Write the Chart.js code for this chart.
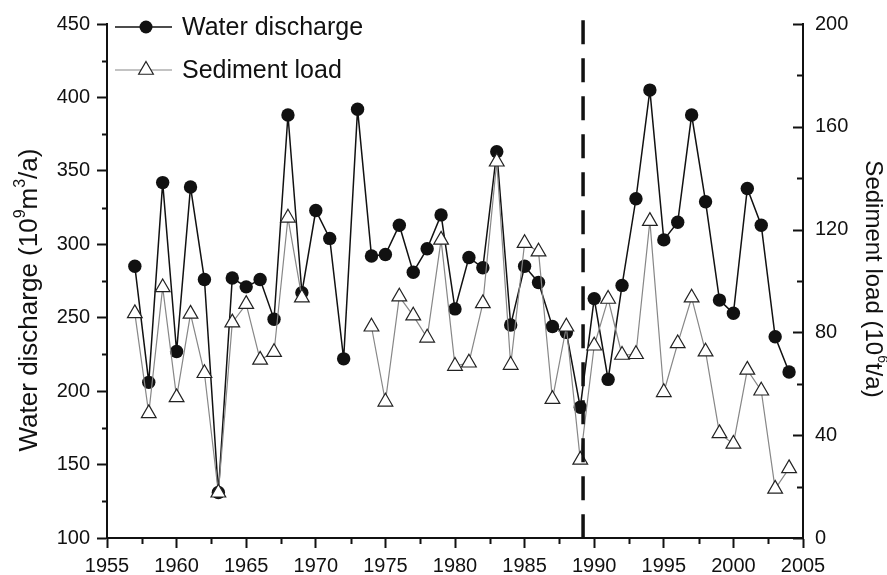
<!DOCTYPE html>
<html>
<head>
<meta charset="utf-8">
<script src="https://cdn.jsdelivr.net/npm/chart.js@4/dist/chart.umd.min.js"></script>
<style>
html,body{margin:0;padding:0;background:#fff;}
#wrap{width:887px;height:575px;position:relative;}
</style>
</head>
<body>
<div id="wrap"><canvas id="c"></canvas></div>
<script>
// ---- data ----
const years = [1957,1958,1959,1960,1961,1962,1963,1964,1965,1966,1967,1968,1969,1970,1971,1972,1973,1974,1975,1976,1977,1978,1979,1980,1981,1982,1983,1984,1985,1986,1987,1988,1989,1990,1991,1992,1993,1994,1995,1996,1997,1998,1999,2000,2001,2002,2003,2004];
const waterDischarge = [285,206,342,227,339,276,131,277,271,276,249,388,267,323,304,222,392,292,293,313,281,297,320,256,291,284,363,245,285,274,244,240,189,263,208,272,331,405,303,315,388,329,262,253,338,313,237,213];
const sedimentLoad = [87.4,48.5,97.5,54.7,87.2,64.1,17.6,83.8,91,69.3,72.3,124.6,93.5,null,null,null,null,82.2,53,93.9,86.5,77.9,116,66.9,68.2,91.3,146.4,67.3,114.7,111.4,54,82.2,30.4,74.8,93,71.2,71.5,123.3,56.7,75.7,93.5,72.5,40.7,36.6,65.4,57.3,19.1,27.1];
const breakYear = 1989.2;
const seriesNames = ['Water discharge', 'Sediment load'];
const leftTitle = [['Water discharge (10',false],['9',true],['m',false],['3',true],['/a)',false]];
const rightTitle = [['Sediment load (10',false],['6',true],['t/a)',false]];
const xTicks = {min:1955, max:2005, step:5, minor:2.5};
const yTicks = {min:100, max:450, step:50, minor:25};
const y1Ticks = {min:0, max:200, step:40, minor:20};

const FONT = "'Liberation Sans', Arial, Helvetica, sans-serif";
const INK = '#111';
const GRAYLINE = '#878787';

function drawRich(ctx, parts, cx, cy, rot, size){
  ctx.save();
  ctx.translate(cx, cy);
  ctx.rotate(rot);
  const sub = Math.round(size*0.6);
  let w = 0;
  const widths = parts.map(p => {
    ctx.font = (p[1]?sub:size) + 'px ' + FONT;
    const m = ctx.measureText(p[0]).width;
    w += m; return m;
  });
  let x = -w/2;
  ctx.fillStyle = INK;
  ctx.textBaseline = 'middle';
  ctx.textAlign = 'left';
  parts.forEach((p,i) => {
    ctx.font = (p[1]?sub:size) + 'px ' + FONT;
    ctx.fillText(p[0], x, p[1] ? -size*0.38 : 0);
    x += widths[i];
  });
  ctx.restore();
}

const extras = {
  id:'extras',
  afterDraw(chart){
    const ctx = chart.ctx;
    const {x, y, y1} = chart.scales;
    const a = chart.chartArea;
    ctx.save();
    ctx.strokeStyle = INK;
    ctx.lineWidth = 2;
    ctx.beginPath();
    // left minor ticks
    for (let v = yTicks.min + yTicks.minor; v < yTicks.max; v += yTicks.step){
      const py = Math.round(y.getPixelForValue(v)) + 0.5;
      ctx.moveTo(a.left - 5, py); ctx.lineTo(a.left, py);
    }
    // bottom minor ticks
    for (let v = xTicks.min + xTicks.minor; v < xTicks.max; v += xTicks.step){
      const px = Math.round(x.getPixelForValue(v)) + 0.5;
      ctx.moveTo(px, a.bottom); ctx.lineTo(px, a.bottom + 6);
    }
    // right axis ticks (inward)
    for (let v = y1Ticks.min; v <= y1Ticks.max; v += y1Ticks.step){
      const py = Math.round(y1.getPixelForValue(v)) + 0.5;
      ctx.moveTo(a.right - 10, py); ctx.lineTo(a.right, py);
    }
    for (let v = y1Ticks.min + y1Ticks.minor; v < y1Ticks.max; v += y1Ticks.step){
      const py = Math.round(y1.getPixelForValue(v)) + 0.5;
      ctx.moveTo(a.right - 6, py); ctx.lineTo(a.right, py);
    }
    ctx.stroke();

    // axis titles
    drawRich(ctx, leftTitle, 30, 300, -Math.PI/2, 26);
    drawRich(ctx, rightTitle, 873, 279, Math.PI/2, 24);

    // legend
    const lx0 = 115, lx1 = 172, mx = 146, tx = 182;
    const ly = [27, 70];
    ctx.lineWidth = 1.5; ctx.strokeStyle = INK;
    ctx.beginPath(); ctx.moveTo(lx0, ly[0]); ctx.lineTo(lx1, ly[0]); ctx.stroke();
    ctx.fillStyle = INK;
    ctx.beginPath(); ctx.arc(mx, ly[0], 6.5, 0, Math.PI*2); ctx.fill();
    ctx.lineWidth = 1.2; ctx.strokeStyle = GRAYLINE;
    ctx.beginPath(); ctx.moveTo(lx0, ly[1]); ctx.lineTo(lx1, ly[1]); ctx.stroke();
    const r = 8.5;
    ctx.beginPath();
    ctx.moveTo(mx, ly[1] - r);
    ctx.lineTo(mx + r*Math.sqrt(3)/2, ly[1] + r/2);
    ctx.lineTo(mx - r*Math.sqrt(3)/2, ly[1] + r/2);
    ctx.closePath();
    ctx.fillStyle = '#fff'; ctx.fill();
    ctx.strokeStyle = '#222'; ctx.lineWidth = 1.2; ctx.stroke();
    ctx.fillStyle = INK;
    ctx.font = '25px ' + FONT;
    ctx.textBaseline = 'middle'; ctx.textAlign = 'left';
    ctx.fillText(seriesNames[0], tx, ly[0] + 1);
    ctx.fillText(seriesNames[1], tx, ly[1] + 1);
    ctx.restore();
  }
};

const tickFont = {family: FONT, size: 20};

new Chart(document.getElementById('c'), {
  type: 'line',
  data: {
    datasets: [
      {
        label: 'break',
        data: [{x: breakYear, y: 452.5}, {x: breakYear, y: yTicks.min}],
        yAxisID: 'y',
        borderColor: INK,
        borderWidth: 3.5,
        borderDash: [24, 14],
        pointRadius: 0,
        clip: false,
        order: -1
      },
      {
        label: seriesNames[1],
        data: years.map((yr, i) => ({x: yr, y: sedimentLoad[i]})),
        yAxisID: 'y1',
        borderColor: GRAYLINE,
        borderWidth: 1.2,
        pointStyle: 'triangle',
        pointRadius: 8.5,
        pointBackgroundColor: '#fff',
        pointBorderColor: '#222',
        pointBorderWidth: 1.2,
        spanGaps: false,
        tension: 0,
        clip: false,
        order: 0
      },
      {
        label: seriesNames[0],
        data: years.map((yr, i) => ({x: yr, y: waterDischarge[i]})),
        yAxisID: 'y',
        borderColor: INK,
        borderWidth: 1.5,
        pointStyle: 'circle',
        pointRadius: 6.7,
        pointBackgroundColor: INK,
        pointBorderColor: INK,
        pointBorderWidth: 0,
        tension: 0,
        clip: false,
        order: 1
      }
    ]
  },
  options: {
    responsive: true,
    maintainAspectRatio: false,
    animation: false,
    devicePixelRatio: 1,
    layout: {padding: {top: 24, left: 0, right: 0, bottom: 0}, autoPadding: false},
    plugins: {legend: {display: false}, tooltip: {enabled: false}, title: {display: false}},
    scales: {
      x: {
        type: 'linear', position: 'bottom',
        min: xTicks.min, max: xTicks.max,
        afterFit(s){ s.height = 37; },
        ticks: {stepSize: xTicks.step, color: INK, font: tickFont, padding: 6, maxRotation: 0,
          callback: v => String(v)},
        grid: {display: true, drawOnChartArea: false, drawTicks: true, tickLength: 10, tickWidth: 2, tickColor: INK},
        border: {display: true, color: INK, width: 2}
      },
      y: {
        type: 'linear', position: 'left',
        min: yTicks.min, max: yTicks.max,
        afterFit(s){ s.width = 107; },
        ticks: {stepSize: yTicks.step, color: INK, font: tickFont, padding: 7, callback: v => String(v)},
        grid: {display: true, drawOnChartArea: false, drawTicks: true, tickLength: 10, tickWidth: 2, tickColor: INK},
        border: {display: true, color: INK, width: 2}
      },
      y1: {
        type: 'linear', position: 'right',
        min: y1Ticks.min, max: y1Ticks.max,
        afterFit(s){ s.width = 84; },
        ticks: {stepSize: y1Ticks.step, color: INK, font: tickFont, padding: 12, callback: v => String(v)},
        grid: {display: true, drawOnChartArea: false, drawTicks: false},
        border: {display: true, color: INK, width: 2}
      }
    }
  },
  plugins: [extras]
});
</script>
</body>
</html>
